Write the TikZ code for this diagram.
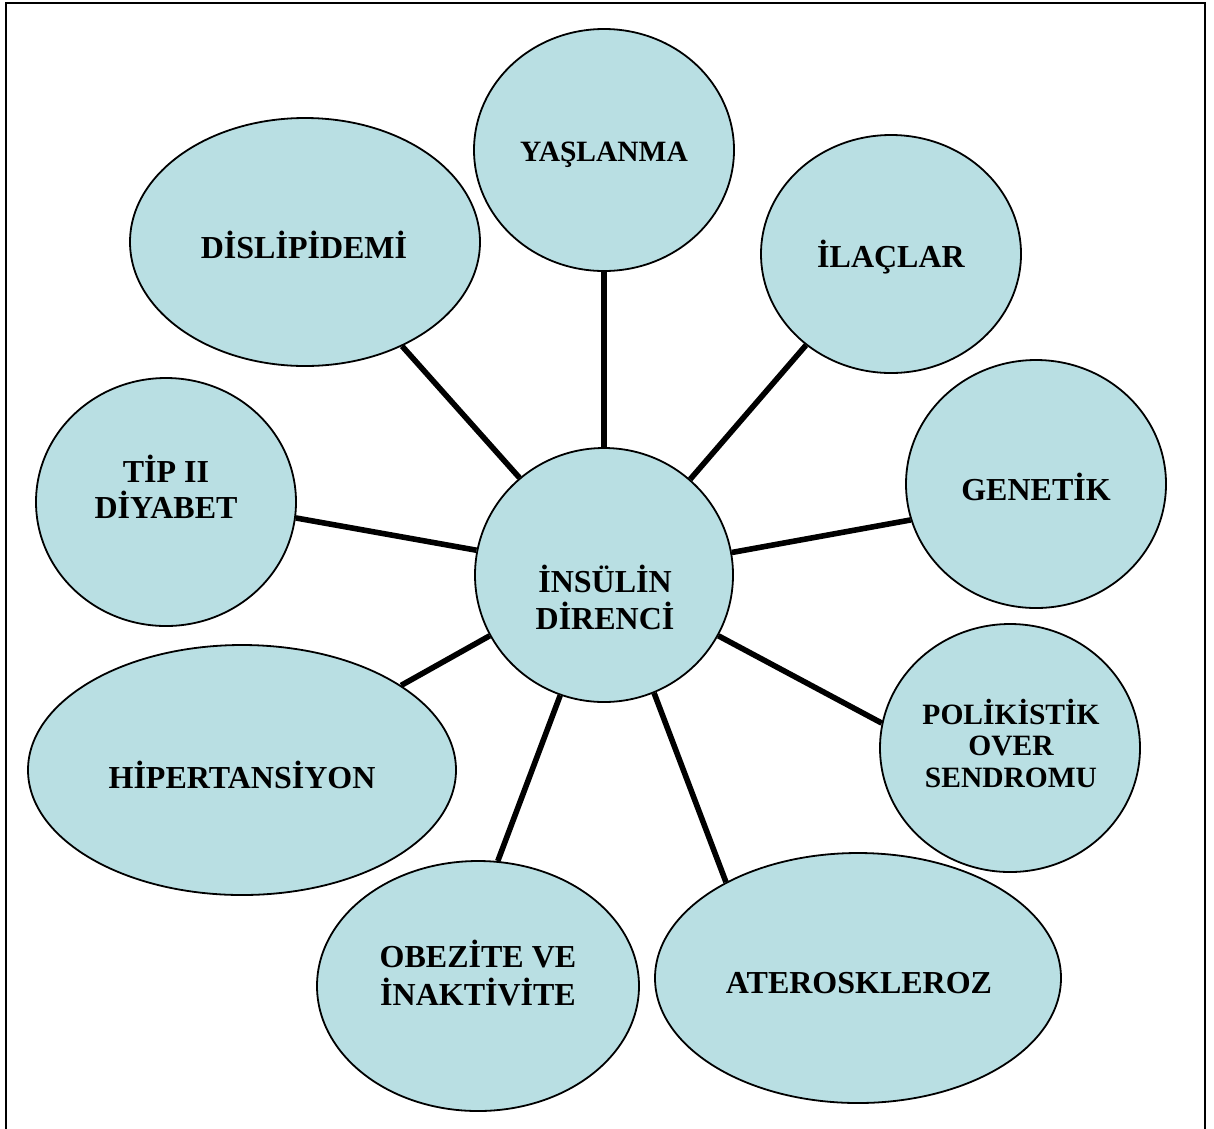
\documentclass[tikz,border=0pt]{standalone}
\usepackage{fontspec}
\setmainfont{Liberation Serif}
\usetikzlibrary{shapes.geometric}
\definecolor{bubblefill}{RGB}{185,223,227}
\begin{document}
\begin{tikzpicture}[x=1pt,y=-1pt,
  bubble/.style={ellipse,draw=black,line width=1.8pt,fill=bubblefill,inner sep=0pt},
  caption/.style 2 args={font=\fontsize{#1}{#2}\selectfont\bfseries,align=center,inner sep=0pt,anchor=base},
  link/.style={line width=5.6pt,black}]
\useasboundingbox (0,0) rectangle (1214,1128);
% frame
\draw[line width=2pt] (6,1140) -- (6,3) -- (1205,3) -- (1205,1140);

% bubbles
\node[bubble,minimum width=258pt,minimum height=254pt] (c) at (604,575) {};
\node[bubble,minimum width=260pt,minimum height=242pt] (yas) at (604,150) {};
\node[bubble,minimum width=260pt,minimum height=238pt] (ilac) at (891,254) {};
\node[bubble,minimum width=260pt,minimum height=248pt] (gen) at (1036,484) {};
\node[bubble,minimum width=260pt,minimum height=248pt] (pco) at (1010,748) {};
\node[bubble,minimum width=406pt,minimum height=250pt] (ath) at (858,978) {};
\node[bubble,minimum width=322pt,minimum height=250pt] (obe) at (478,986) {};
\node[bubble,minimum width=428pt,minimum height=250pt] (hip) at (242,770) {};
\node[bubble,minimum width=260pt,minimum height=248pt] (tip) at (166,502) {};
\node[bubble,minimum width=350pt,minimum height=248pt] (dis) at (305,242) {};

% texts (anchored at the baseline of the last line)
\node[caption={32}{37}] (tc) at (605,629) {İNSÜLİN\\DİRENCİ};
\node[caption={29.5}{36}] (tyas) at (604,161) {YAŞLANMA};
\node[caption={32}{36}] (tilac) at (891,267) {İLAÇLAR};
\node[caption={32}{36}] (tgen) at (1036,500) {GENETİK};
\node[caption={29.5}{31.5}] (tpco) at (1011,787) {POLİKİSTİK\\OVER\\SENDROMU};
\node[caption={32}{36}] (tath) at (859,993) {ATEROSKLEROZ};
\node[caption={32}{38}] (tobe) at (478,1005) {OBEZİTE VE\\İNAKTİVİTE};
\node[caption={32}{36}] (thip) at (242,788) {HİPERTANSİYON};
\node[caption={32}{36}] (ttip) at (166,518) {TİP II\\DİYABET};
\node[caption={32}{36}] (tdis) at (304,258) {DİSLİPİDEMİ};

% connectors
\draw[link] (c.90) -- (yas.270);
\draw[link] (c.48.5) -- (ilac.227.6);
\draw[link] (c.10.1) -- (gen.196.6);
\draw[link] (c.-28.5) -- (pco.169.7);
\draw[link] (c.-67.3) -- (ath.144.8);
\draw[link] (c.-110.6) -- (obe.81.1);
\draw[link] (c.208.6) -- (hip.28);
\draw[link] (c.169.4) -- (tip.-7.9);
\draw[link] (c.131.5) -- (dis.-47);
\end{tikzpicture}
\end{document}
